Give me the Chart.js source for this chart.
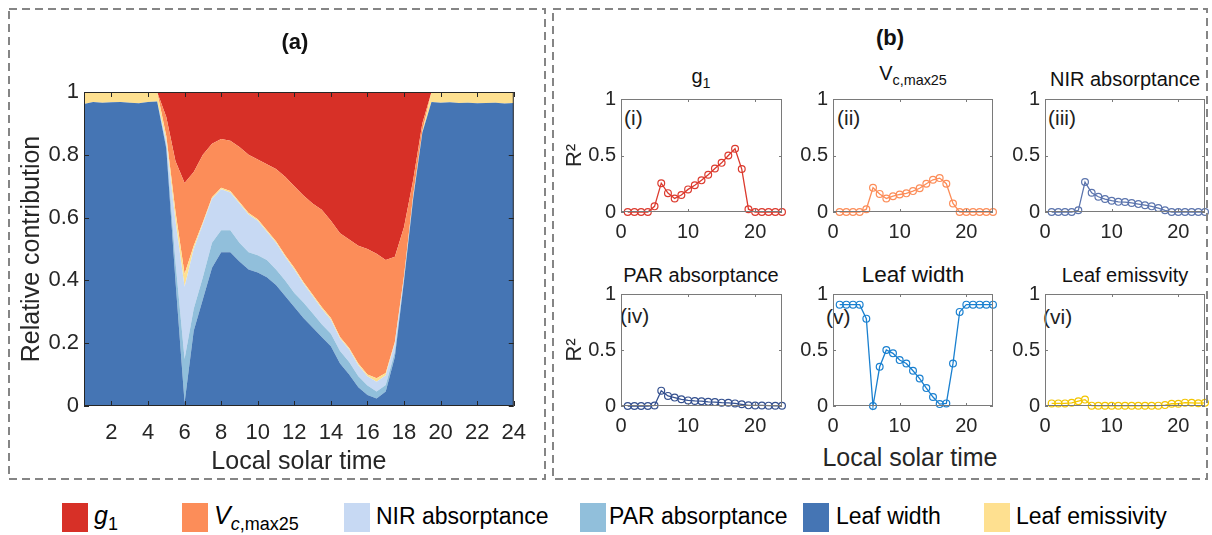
<!DOCTYPE html>
<html>
<head>
<meta charset="utf-8">
<script src="https://cdn.jsdelivr.net/npm/chart.js@4.4.1/dist/chart.umd.min.js"></script>
<style>
  body { margin: 0; width: 1212px; height: 535px; background: #fff; position: relative; overflow: hidden;
         font-family: "Liberation Sans", Arial, sans-serif; color: #262626; }
  canvas { position: absolute; }
  .txt { position: absolute; white-space: nowrap; line-height: 1; color: #222; font-size: 21px; }
  .ttl { position: absolute; width: 240px; text-align: center; line-height: 1; color: #111; white-space: nowrap; font-size: 20px; }
  .ttl sub, .leg sub { font-size: 72%; vertical-align: -0.35em; line-height: 0; }
  .sw { position: absolute; width: 26px; height: 29px; top: 503px; }
  .leg { position: absolute; top: 505px; font-size: 23px; line-height: 1; color: #000; white-space: nowrap; }
</style>
</head>
<body>
<canvas id="chartA" width="528" height="460" style="left:12px;top:20px"></canvas>

<div class="ttl" style="left:175px;top:31px;font-size:22px;font-weight:bold;width:240px">(a)</div>
<div class="ttl" style="left:770px;top:27px;font-size:22px;font-weight:bold;width:240px">(b)</div>

<div class="ttl" style="left:581px;top:66px">g<sub>1</sub></div>
<div class="ttl" style="left:793px;top:63px">V<sub>c,max25</sub></div>
<div class="ttl" style="left:1005px;top:69px">NIR absorptance</div>
<div class="ttl" style="left:581px;top:265px">PAR absorptance</div>
<div class="ttl" style="left:793px;top:264px;font-size:22.5px">Leaf width</div>
<div class="ttl" style="left:1005px;top:265px">Leaf emissvity</div>
<div class="ttl" style="left:790px;top:445px;font-size:25px;color:#262626">Local solar time</div>

<div class="txt" style="left:624px;top:107px">(i)</div>
<div class="txt" style="left:837px;top:107px">(ii)</div>
<div class="txt" style="left:1048px;top:107px">(iii)</div>
<div class="txt" style="left:620px;top:305px">(iv)</div>
<div class="txt" style="left:826px;top:306px">(v)</div>
<div class="txt" style="left:1043px;top:306px">(vi)</div>

<div class="sw" style="left:62px;background:#d73027"></div>
<div class="leg" style="left:94px;top:503px;font-size:25px"><i>g</i><sub>1</sub></div>
<div class="sw" style="left:182px;background:#fc8d59"></div>
<div class="leg" style="left:214px;top:503px;font-size:25px"><i>V</i><sub><i>c</i>,max25</sub></div>
<div class="sw" style="left:344px;background:#c7d9f3"></div>
<div class="leg" style="left:376px">NIR absorptance</div>
<div class="sw" style="left:580px;background:#91bfdb"></div>
<div class="leg" style="left:609px">PAR absorptance</div>
<div class="sw" style="left:803px;background:#4575b4"></div>
<div class="leg" style="left:836px">Leaf width</div>
<div class="sw" style="left:984px;background:#fee090"></div>
<div class="leg" style="left:1016px">Leaf emissivity</div>

<canvas id="frame" width="1212" height="535" style="left:0;top:0;pointer-events:none"></canvas>

<script>
Chart.defaults.font.family = '"Liberation Sans", Arial, sans-serif';

// ---- panel (a): half-hourly relative contributions ----
const hoursA = [0.5, 1, 1.5, 2, 2.5, 3, 3.5, 4, 4.5, 5, 5.5, 6, 6.5, 7, 7.5, 8, 8.5, 9, 9.5, 10,
  10.5, 11, 11.5, 12, 12.5, 13, 13.5, 14, 14.5, 15, 15.5, 16, 16.5, 17, 17.5, 18, 18.5, 19, 19.5, 20,
  20.5, 21, 21.5, 22, 22.5, 23, 23.5, 24];
const xTicksA = [2, 4, 6, 8, 10, 12, 14, 16, 18, 20, 22, 24];
const yTicksA = [0, 0.2, 0.4, 0.6, 0.8, 1];

const leafWidthA = [0.962, 0.968, 0.966, 0.967, 0.968, 0.966, 0.964, 0.968, 0.970,
  0.82, 0.40, 0.01, 0.24, 0.34, 0.44, 0.49, 0.49, 0.46, 0.435, 0.425, 0.41, 0.385, 0.35, 0.315, 0.28,
  0.25, 0.22, 0.19, 0.135, 0.10, 0.06, 0.035, 0.024, 0.046, 0.157, 0.40, 0.66, 0.87,
  0.968, 0.966, 0.967, 0.965, 0.966, 0.964, 0.965, 0.966, 0.963, 0.965];
const parA = [0, 0, 0, 0, 0, 0, 0, 0, 0,
  0.01, 0.06, 0.14, 0.07, 0.07, 0.08, 0.07, 0.07, 0.06, 0.055, 0.055, 0.055, 0.05, 0.05, 0.045, 0.05,
  0.045, 0.04, 0.04, 0.04, 0.04, 0.035, 0.03, 0.022, 0.021, 0.016, 0.005, 0.003, 0.001,
  0, 0, 0, 0, 0, 0, 0, 0, 0, 0];
const nirA = [0, 0, 0, 0, 0, 0, 0, 0, 0,
  0.015, 0.13, 0.23, 0.19, 0.17, 0.14, 0.13, 0.12, 0.125, 0.12, 0.11, 0.09, 0.085, 0.075, 0.075, 0.06,
  0.055, 0.05, 0.045, 0.04, 0.04, 0.035, 0.03, 0.031, 0.031, 0.027, 0.005, 0.003, 0.001,
  0, 0, 0, 0, 0, 0, 0, 0, 0, 0];
const emisA = [0.038, 0.032, 0.034, 0.033, 0.032, 0.034, 0.036, 0.032, 0.030,
  0.015, 0.03, 0.04, 0.01, 0.005, 0.005, 0.005, 0.005, 0.005, 0.005, 0.005, 0.005, 0.005, 0.005, 0.005, 0.005,
  0.005, 0.005, 0.005, 0.005, 0.005, 0.005, 0.005, 0.011, 0.007, 0.005, 0.005, 0.004, 0.003,
  0.032, 0.034, 0.033, 0.035, 0.034, 0.036, 0.035, 0.034, 0.037, 0.035];
const vcmaxA = [0, 0, 0, 0, 0, 0, 0, 0, 0,
  0.06, 0.16, 0.29, 0.235, 0.215, 0.17, 0.155, 0.16, 0.175, 0.185, 0.19, 0.21, 0.23, 0.25, 0.26, 0.275,
  0.29, 0.31, 0.31, 0.33, 0.345, 0.375, 0.40, 0.397, 0.36, 0.27, 0.155, 0.05, 0.025,
  0, 0, 0, 0, 0, 0, 0, 0, 0, 0];
const g1A = [0, 0, 0, 0, 0, 0, 0, 0, 0,
  0.08, 0.22, 0.29, 0.255, 0.20, 0.165, 0.15, 0.155, 0.175, 0.20, 0.215, 0.23, 0.245, 0.27, 0.30, 0.33,
  0.355, 0.375, 0.41, 0.45, 0.47, 0.49, 0.50, 0.515, 0.535, 0.525, 0.43, 0.28, 0.10,
  0, 0, 0, 0, 0, 0, 0, 0, 0, 0];

// ---- panel (b): hourly R2 per parameter ----
const hoursB = [1, 2, 3, 4, 5, 6, 7, 8, 9, 10, 11, 12, 13, 14, 15, 16, 17, 18, 19, 20, 21, 22, 23, 24];
const xTicksB = [0, 10, 20];
const yTicksB = [0, 0.5, 1];

const g1B = [0, 0, 0, 0, 0.05, 0.255, 0.167, 0.12, 0.15, 0.20, 0.237, 0.28, 0.33, 0.385, 0.435, 0.50, 0.56, 0.38, 0.025, 0, 0, 0, 0, 0];
const vcmaxB = [0, 0, 0, 0, 0.025, 0.215, 0.16, 0.12, 0.14, 0.155, 0.165, 0.185, 0.21, 0.25, 0.285, 0.30, 0.25, 0.075, 0, 0, 0, 0, 0, 0];
const nirB = [0, 0, 0, 0, 0.015, 0.265, 0.17, 0.135, 0.115, 0.10, 0.09, 0.088, 0.08, 0.07, 0.06, 0.05, 0.035, 0.015, 0, 0, 0, 0, 0, 0];
const parB = [0, 0, 0, 0, 0.005, 0.137, 0.09, 0.075, 0.06, 0.05, 0.045, 0.043, 0.037, 0.035, 0.03, 0.028, 0.023, 0.015, 0.006, 0.005, 0.005, 0.003, 0.002, 0.002];
const leafWidthB = [0.905, 0.905, 0.905, 0.905, 0.78, 0, 0.35, 0.50, 0.47, 0.41, 0.38, 0.315, 0.245, 0.16, 0.08, 0.017, 0.023, 0.38, 0.84, 0.905, 0.905, 0.905, 0.905, 0.905];
const emisB = [0.023, 0.023, 0.023, 0.028, 0.043, 0.057, 0.003, 0.002, 0.002, 0.002, 0.002, 0.002, 0.002, 0.002, 0.002, 0.002, 0.003, 0.008, 0.02, 0.02, 0.03, 0.028, 0.025, 0.028];

// box with inward ticks on all four sides, drawn over the data like MATLAB
const boxTicks = {
  id: 'boxTicks',
  afterDatasetsDraw(chart, args, opts) {
    const { ctx, chartArea: a, scales: { x, y } } = chart;
    const L = opts.len;
    ctx.save();
    ctx.strokeStyle = opts.color;
    ctx.lineWidth = 1;
    ctx.strokeRect(a.left + 0.5, a.top + 0.5, a.right - a.left - 1, a.bottom - a.top - 1);
    ctx.beginPath();
    x.ticks.forEach(t => {
      const px = Math.round(x.getPixelForValue(t.value)) + 0.5;
      ctx.moveTo(px, a.bottom); ctx.lineTo(px, a.bottom - L);
      ctx.moveTo(px, a.top); ctx.lineTo(px, a.top + L);
    });
    y.ticks.forEach(t => {
      const py = Math.round(y.getPixelForValue(t.value)) + 0.5;
      ctx.moveTo(a.left, py); ctx.lineTo(a.left + L, py);
      ctx.moveTo(a.right, py); ctx.lineTo(a.right - L, py);
    });
    ctx.stroke();
    ctx.restore();
  }
};

const fmt = v => String(v);

// stacked areas, bottom to top
const layersA = [
  { label: 'Leaf width', data: leafWidthA, color: '#4575b4' },
  { label: 'PAR absorptance', data: parA, color: '#91bfdb' },
  { label: 'NIR absorptance', data: nirA, color: '#c7d9f3' },
  { label: 'Leaf emissivity', data: emisA, color: '#fee090' },
  { label: 'Vc,max25', data: vcmaxA, color: '#fc8d59' },
  { label: 'g1', data: g1A, color: '#d73027' }
];

new Chart(document.getElementById('chartA'), {
  type: 'line',
  data: {
    datasets: layersA.map((l, i) => ({
      label: l.label,
      data: hoursA.map((h, k) => ({ x: h, y: l.data[k] })),
      backgroundColor: l.color,
      borderWidth: 0,
      pointRadius: 0,
      tension: 0,
      fill: i === 0 ? 'origin' : '-1'
    }))
  },
  options: {
    responsive: false,
    animation: false,
    devicePixelRatio: 1,
    layout: { padding: { top: 72, right: 13, left: 0, bottom: 0 } },
    plugins: { legend: { display: false }, tooltip: { enabled: false }, boxTicks: { color: '#262626', len: 5 } },
    scales: {
      x: {
        type: 'linear', min: 0.5, max: 24,
        afterBuildTicks: s => { s.ticks = xTicksA.map(v => ({ value: v })); },
        afterFit: s => { s.height = 74; },
        grid: { display: false, drawTicks: false }, border: { display: false },
        ticks: { color: '#262626', font: { size: 22 }, padding: 14, maxRotation: 0, autoSkip: false, callback: fmt },
        title: { display: true, text: 'Local solar time', color: '#262626', font: { size: 25 }, padding: { top: 0, bottom: 3 } }
      },
      y: {
        stacked: true, min: 0, max: 1,
        afterBuildTicks: s => { s.ticks = yTicksA.map(v => ({ value: v })); },
        afterFit: s => { s.width = 72; },
        grid: { display: false, drawTicks: false }, border: { display: false },
        ticks: { color: '#262626', font: { size: 22 }, padding: 5, autoSkip: false, callback: fmt },
        title: { display: true, text: 'Relative contribution', color: '#262626', font: { size: 25 }, padding: { top: 5, bottom: 0 } }
      }
    }
  },
  plugins: [boxTicks]
});

// six small panels
const panelsB = [
  { data: g1B, color: '#dc3a2e', left: 621, top: 94, w: 161, h: 118, r2: true },
  { data: vcmaxB, color: '#fc8d59', left: 833, top: 94, w: 160, h: 118, r2: false },
  { data: nirB, color: '#5b74ad', left: 1045, top: 94, w: 160, h: 118, r2: false },
  { data: parB, color: '#34508f', left: 621, top: 289, w: 161, h: 117, r2: true },
  { data: leafWidthB, color: '#1a80d0', left: 833, top: 289, w: 160, h: 117, r2: false },
  { data: emisB, color: '#f2c500', left: 1045, top: 289, w: 160, h: 117, r2: false }
];

panelsB.forEach(p => {
  const cv = document.createElement('canvas');
  cv.width = p.w + 62 + 8;
  cv.height = p.h + 12 + 34;
  cv.style.left = (p.left - 62) + 'px';
  cv.style.top = (p.top - 12) + 'px';
  document.body.insertBefore(cv, document.getElementById('frame'));
  new Chart(cv, {
    type: 'line',
    data: {
      datasets: [{
        data: hoursB.map((h, k) => ({ x: h, y: p.data[k] })),
        borderColor: p.color,
        borderWidth: 1.3,
        pointRadius: 3.4,
        pointBorderWidth: 1.2,
        pointBorderColor: p.color,
        pointBackgroundColor: 'rgba(0,0,0,0)',
        tension: 0,
        fill: false,
        clip: false
      }]
    },
    options: {
      responsive: false,
      animation: false,
      devicePixelRatio: 1,
      layout: { padding: { top: 12, right: 8, left: 0, bottom: 0 } },
      plugins: { legend: { display: false }, tooltip: { enabled: false }, boxTicks: { color: '#7a7a7a', len: 3 } },
      scales: {
        x: {
          type: 'linear', min: 0, max: 24,
          afterBuildTicks: s => { s.ticks = xTicksB.map(v => ({ value: v })); },
          afterFit: s => { s.height = 34; },
          grid: { display: false, drawTicks: false }, border: { display: false },
          ticks: { color: '#262626', font: { size: 20 }, padding: 8, maxRotation: 0, autoSkip: false, callback: fmt }
        },
        y: {
          min: 0, max: 1,
          afterBuildTicks: s => { s.ticks = yTicksB.map(v => ({ value: v })); },
          afterFit: s => { s.width = 62; },
          grid: { display: false, drawTicks: false }, border: { display: false },
          ticks: { color: '#262626', font: { size: 20 }, padding: 5, autoSkip: false, callback: fmt },
          title: { display: p.r2, text: 'R²', color: '#262626', font: { size: 22 }, padding: { top: 3, bottom: 0 } }
        }
      }
    },
    plugins: [boxTicks]
  });
});

// dashed panel frames
const fctx = document.getElementById('frame').getContext('2d');
fctx.strokeStyle = '#858585';
fctx.lineWidth = 2;
fctx.setLineDash([8, 5]);
fctx.strokeRect(9, 9, 536, 470);
fctx.strokeRect(553, 9, 654, 470);
</script>
</body>
</html>
